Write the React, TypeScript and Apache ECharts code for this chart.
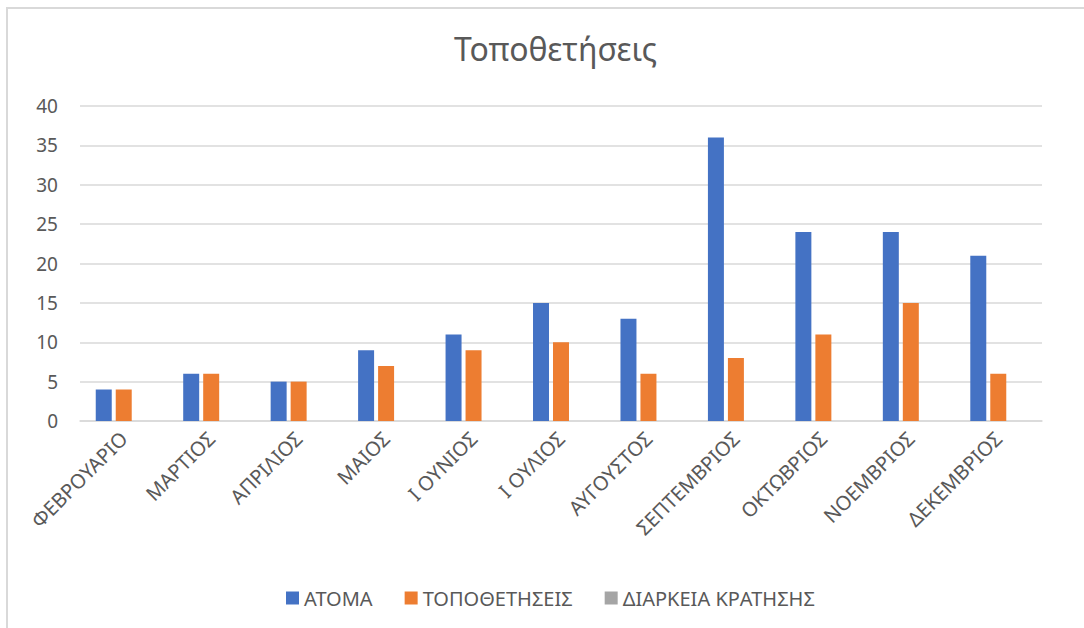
import React, { useEffect, useRef } from "react";
import * as echarts from "echarts";

const categories = [
  "ΦΕΒΡΟΥΑΡΙΟ",
  "ΜΑΡΤΙΟΣ",
  "ΑΠΡΙΛΙΟΣ",
  "ΜΑΙΟΣ",
  "Ι ΟΥΝΙΟΣ",
  "Ι ΟΥΛΙΟΣ",
  "ΑΥΓΟΥΣΤΟΣ",
  "ΣΕΠΤΕΜΒΡΙΟΣ",
  "ΟΚΤΩΒΡΙΟΣ",
  "ΝΟΕΜΒΡΙΟΣ",
  "ΔΕΚΕΜΒΡΙΟΣ",
];
const atoma = [4, 6, 5, 9, 11, 15, 13, 36, 24, 24, 21];
const topothetiseis = [4, 6, 5, 7, 9, 10, 6, 8, 11, 15, 6];
const diarkeia: (number | null)[] = [null, null, null, null, null, null, null, null, null, null, null];

const FONT = "Noto Sans";
const TEXT = "#595959";

export default function App() {
  const ref = useRef<HTMLDivElement>(null);
  useEffect(() => {
    if (!ref.current) return;
    const chart = echarts.init(ref.current, undefined, { renderer: "svg" });
    chart.setOption({
      animation: false,
      backgroundColor: "#ffffff",
      textStyle: { fontFamily: FONT },
      title: {
        text: "Τοποθετήσεις",
        left: 449,
        top: 27,
        textStyle: { fontFamily: FONT, fontSize: 32, fontWeight: "normal", color: TEXT },
      },
      legend: {
        bottom: 15,
        left: 281,
        itemWidth: 13,
        itemHeight: 13,
        itemGap: 32,
        icon: "rect",
        textStyle: { fontFamily: FONT, fontSize: 20, color: TEXT },
        data: ["ΑΤΟΜΑ", "ΤΟΠΟΘΕΤΗΣΕΙΣ", "ΔΙΑΡΚΕΙΑ ΚΡΑΤΗΣΗΣ"],
      },
      grid: { left: 80, right: 42, top: 106, bottom: 207 },
      xAxis: {
        type: "category",
        data: categories,
        axisTick: { show: false },
        axisLine: { lineStyle: { color: "#D9D9D9", width: 1.5 } },
        axisLabel: {
          rotate: 45,
          interval: 0,
          margin: 14,
          fontFamily: FONT,
          fontSize: 20,
          color: TEXT,
        },
      },
      yAxis: {
        type: "value",
        min: 0,
        max: 40,
        interval: 5,
        axisLine: { show: false },
        axisTick: { show: false },
        splitLine: { lineStyle: { color: "#D9D9D9", width: 1.5 } },
        axisLabel: { margin: 22, fontFamily: FONT, fontSize: 19, color: TEXT },
      },
      graphic: [
        {
          type: "rect",
          shape: { x: 7, y: 8, width: 1200, height: 800 },
          style: { fill: "none", stroke: "#D9D9D9", lineWidth: 2 },
          silent: true,
        },
      ],
      series: [
        {
          name: "ΑΤΟΜΑ",
          type: "bar",
          data: atoma,
          itemStyle: { color: "#4472C4" },
          barGap: "25%",
          barCategoryGap: "36%",
        },
        {
          name: "ΤΟΠΟΘΕΤΗΣΕΙΣ",
          type: "bar",
          data: topothetiseis,
          itemStyle: { color: "#ED7D31" },
        },
        {
          name: "ΔΙΑΡΚΕΙΑ ΚΡΑΤΗΣΗΣ",
          type: "bar",
          data: diarkeia,
          itemStyle: { color: "#A5A5A5" },
        },
      ],
    });
    return () => chart.dispose();
  }, []);
  return (
    <div
      ref={ref}
      style={{ position: "fixed", left: 0, top: 0, width: 1084, height: 628 }}
    />
  );
}
